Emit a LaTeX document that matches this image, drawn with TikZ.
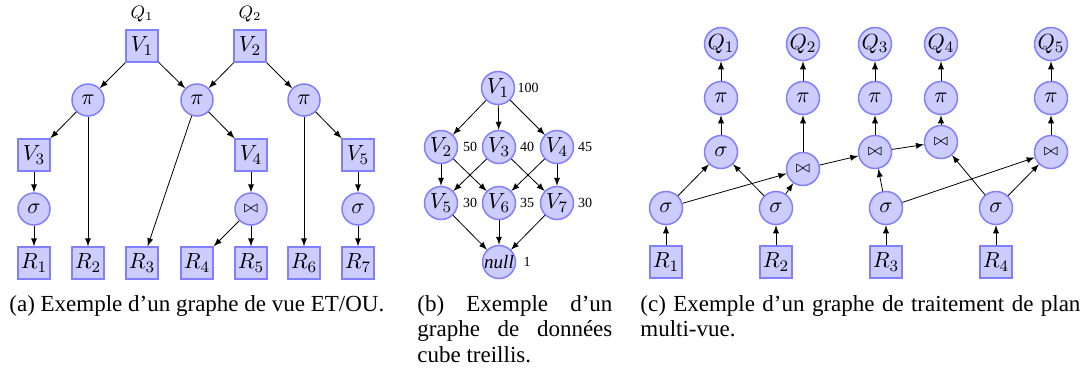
\documentclass[tikz,border=0pt]{standalone}
\usepackage{fontspec}
\setmainfont{Liberation Serif}
\tolerance=10000
\hyphenpenalty=10000

\begin{document}
\begin{tikzpicture}[x=0.5pt,y=-0.5pt,>=latex,
                    every node/.style={font=\fontsize{11}{13}\selectfont},
                    op/.style={circle,draw=blue!50,fill=blue!20,
                               line width=0.75pt,minimum size=16pt,inner sep=0pt},
                    rel/.style={rectangle,draw=blue!50,fill=blue!20,
                                line width=0.75pt,minimum size=16pt,inner sep=0pt},
                    wt/.style={font=\fontsize{7}{8}\selectfont,inner sep=0pt},
                    legende/.style={anchor=north west,inner sep=0pt,align=justify,
                                font=\fontsize{11.5}{12.75}\selectfont}]

\useasboundingbox (0,0) rectangle (1085,376);

% (a) graphe ET/OU
\node[font=\fontsize{9}{10}\selectfont] (q1) at (142,14) {$Q_1$};
\node[font=\fontsize{9}{10}\selectfont] (q2) at (250,14) {$Q_2$};

\node[rel] (v1) at (142,46) {$V_1$};
\node[rel] (v2) at (250,46) {$V_2$};

\node[op] (pa) at (88,100) {$\pi$};
\node[op] (pb) at (197,100) {$\pi$};
\node[op] (pc) at (304,100) {$\pi$};

\node[rel] (v3) at (34,155) {$V_3$};
\node[rel] (v4) at (251,155) {$V_4$};
\node[rel] (v5) at (358,155) {$V_5$};

\node[op] (sa) at (34,209) {$\sigma$};
\node[op] (ja) at (251,209) {\footnotesize$\bowtie$};
\node[op] (sb) at (358,209) {$\sigma$};

\node[rel] (r1) at (34,263) {$R_1$};
\node[rel] (r2) at (88,263) {$R_2$};
\node[rel] (r3) at (142,263) {$R_3$};
\node[rel] (r4) at (197,263) {$R_4$};
\node[rel] (r5) at (251,263) {$R_5$};
\node[rel] (r6) at (304,263) {$R_6$};
\node[rel] (r7) at (358,263) {$R_7$};

\draw[->] (v1) -- (pa);
\draw[->] (v1) -- (pb);
\draw[->] (v2) -- (pb);
\draw[->] (v2) -- (pc);
\draw[->] (pa) -- (v3);
\draw[->] (pa) -- (r2);
\draw[->] (pb) -- (r3);
\draw[->] (pb) -- (v4);
\draw[->] (pc) -- (r6);
\draw[->] (pc) -- (v5);
\draw[->] (v3) -- (sa);
\draw[->] (sa) -- (r1);
\draw[->] (v4) -- (ja);
\draw[->] (ja) -- (r4);
\draw[->] (ja) -- (r5);
\draw[->] (v5) -- (sb);
\draw[->] (sb) -- (r7);

% (b) treillis
\node[op, minimum size=16.5pt] (l1) at (498,88) {$V_1$};
\node[op, minimum size=16.5pt] (l2) at (441,147) {$V_2$};
\node[op, minimum size=16.5pt] (l3) at (499,147) {$V_3$};
\node[op, minimum size=16.5pt] (l4) at (557,147) {$V_4$};
\node[op, minimum size=16.5pt] (l5) at (441,203) {$V_5$};
\node[op, minimum size=16.5pt] (l6) at (499,203) {$V_6$};
\node[op, minimum size=16.5pt] (l7) at (557,203) {$V_7$};
\node[op, minimum size=16.5pt, font=\fontsize{9.5}{11}\selectfont] (lnull) at (499,262) {\textit{null}};

\node[wt] (w1) at (528,88) {100};
\node[wt] (w2) at (470,147) {50};
\node[wt] (w3) at (527,147) {40};
\node[wt] (w4) at (585,147) {45};
\node[wt] (w5) at (470,203) {30};
\node[wt] (w6) at (527,203) {35};
\node[wt] (w7) at (585,203) {30};
\node[wt] (wnull) at (527,262) {1};

\draw[->] (l1) -- (l2);
\draw[->] (l1) -- (l3);
\draw[->] (l1) -- (l4);
\draw[->] (l2) -- (l5);
\draw[->] (l2) -- (l6);
\draw[->] (l3) -- (l5);
\draw[->] (l3) -- (l7);
\draw[->] (l4) -- (l6);
\draw[->] (l4) -- (l7);
\draw[->] (l5) -- (lnull);
\draw[->] (l6) -- (lnull);
\draw[->] (l7) -- (lnull);

% (c) plan multi-vue
\node[op, minimum size=16.5pt] (cq1) at (721,44) {$Q_1$};
\node[op, minimum size=16.5pt] (cq2) at (803,44) {$Q_2$};
\node[op, minimum size=16.5pt] (cq3) at (875,44) {$Q_3$};
\node[op, minimum size=16.5pt] (cq4) at (941,44) {$Q_4$};
\node[op, minimum size=16.5pt] (cq5) at (1051,44) {$Q_5$};

\node[op, minimum size=16.5pt] (cp1) at (721,98) {$\pi$};
\node[op, minimum size=16.5pt] (cp2) at (803,98) {$\pi$};
\node[op, minimum size=16.5pt] (cp3) at (875,98) {$\pi$};
\node[op, minimum size=16.5pt] (cp4) at (941,98) {$\pi$};
\node[op, minimum size=16.5pt] (cp5) at (1051,98) {$\pi$};

\node[op, minimum size=16.5pt] (cs) at (721,152) {$\sigma$};
\node[op, minimum size=16.5pt] (cj2) at (803,169) {\footnotesize$\bowtie$};
\node[op, minimum size=16.5pt] (cj3) at (875,152) {\footnotesize$\bowtie$};
\node[op, minimum size=16.5pt] (cj4) at (941,142) {\footnotesize$\bowtie$};
\node[op, minimum size=16.5pt] (cj5) at (1051,152) {\footnotesize$\bowtie$};

\node[op, minimum size=16.5pt] (cs1) at (666,208) {$\sigma$};
\node[op, minimum size=16.5pt] (cs2) at (776,208) {$\sigma$};
\node[op, minimum size=16.5pt] (cs3) at (886,208) {$\sigma$};
\node[op, minimum size=16.5pt] (cs4) at (996,208) {$\sigma$};

\node[rel] (cr1) at (666,262) {$R_1$};
\node[rel] (cr2) at (776,262) {$R_2$};
\node[rel] (cr3) at (886,262) {$R_3$};
\node[rel] (cr4) at (996,262) {$R_4$};

\draw[->] (cr1) -- (cs1);
\draw[->] (cr2) -- (cs2);
\draw[->] (cr3) -- (cs3);
\draw[->] (cr4) -- (cs4);
\draw[->] (cs1) -- (cs);
\draw[->] (cs1) -- (cj2);
\draw[->] (cs2) -- (cs);
\draw[->] (cs2) -- (cj2);
\draw[->] (cs3) -- (cj3);
\draw[->] (cs3) -- (cj5);
\draw[->] (cs4) -- (cj4);
\draw[->] (cs4) -- (cj5);
\draw[->] (cj2) -- (cj3);
\draw[->] (cj3) -- (cj4);
\draw[->] (cs) -- (cp1);
\draw[->] (cj2) -- (cp2);
\draw[->] (cj3) -- (cp3);
\draw[->] (cj4) -- (cp4);
\draw[->] (cj5) -- (cp5);
\draw[->] (cp1) -- (cq1);
\draw[->] (cp2) -- (cq2);
\draw[->] (cp3) -- (cq3);
\draw[->] (cp4) -- (cq4);
\draw[->] (cp5) -- (cq5);

% legendes
\node[legende, text width=195pt] (capa) at (9,295) {(a) Exemple d’un graphe de vue ET/OU.};
\node[legende, text width=97.5pt] (capb) at (417,295) {(b) Exemple d’un graphe de données cube treillis.};
\node[legende, text width=220pt] (capc) at (640,295) {(c) Exemple d’un graphe de traitement de plan multi-vue.};

\end{tikzpicture}
\end{document}
